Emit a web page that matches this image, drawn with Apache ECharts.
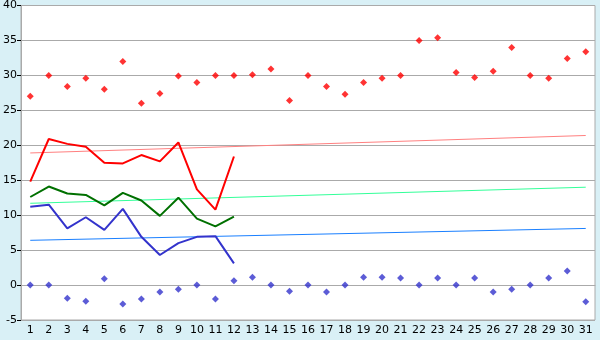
<!DOCTYPE html>
<html><head><meta charset="utf-8">
<script src="https://cdn.jsdelivr.net/npm/echarts@6/dist/echarts.min.js"></script>
<style>html,body{margin:0;padding:0;background:#d9f0f6;}#c{width:600px;height:340px;}</style>
</head><body><div id="c"></div>
<script>
const days = ['1','2','3','4','5','6','7','8','9','10','11','12','13','14','15','16','17','18','19','20','21','22','23','24','25','26','27','28','29','30','31'];
const maxPoints = [27.0,30.0,28.4,29.6,28.0,32.0,26.0,27.4,29.9,29.0,30.0,30.0,30.1,30.9,26.4,30.0,28.4,27.3,29.0,29.6,30.0,35.0,35.4,30.4,29.7,30.6,34.0,30.0,29.6,32.4,33.4];
const minPoints = [0,0,-1.9,-2.3,0.9,-2.7,-2.0,-1.0,-0.6,0,-2.0,0.6,1.1,0,-0.9,0,-1.0,0,1.1,1.1,1.0,0,1.0,0,1.0,-1.0,-0.6,0,1.0,2.0,-2.4];
const redLine = [14.8,20.9,20.2,19.8,17.5,17.4,18.6,17.7,20.4,13.7,10.8,18.4];
const greenLine = [12.6,14.1,13.1,12.9,11.4,13.2,12.1,9.9,12.5,9.5,8.4,9.8];
const blueLine = [11.2,11.5,8.1,9.7,7.9,10.9,6.9,4.3,6.0,6.9,7.0,3.1];
const redTrend = [['1',18.9],['31',21.4]];
const greenTrend = [['1',11.7],['31',14.0]];
const blueTrend = [['1',6.4],['31',8.1]];
const yTicks = {min:-5,max:40,interval:5};

const chart = echarts.init(document.getElementById('c'));
const lineS = (d,c,w) => ({type:'line',data:d,symbol:'none',lineStyle:{color:c,width:w},itemStyle:{color:c},animation:false});
chart.setOption({
  backgroundColor:'#d9f0f6',
  animation:false,
  grid:{left:21,right:5,top:5,bottom:20,show:true,backgroundColor:'#ffffff',borderColor:'#aaaaaa',borderWidth:1},
  xAxis:{type:'category',data:days,boundaryGap:true,
    axisLine:{lineStyle:{color:'#aaaaaa'}},
    axisTick:{alignWithLabel:true,interval:0,length:4,lineStyle:{color:'#000'}},
    axisLabel:{interval:0,color:'#000',fontFamily:'DejaVu Sans',fontSize:11,margin:5},
    splitLine:{show:false}},
  yAxis:{type:'value',min:yTicks.min,max:yTicks.max,interval:yTicks.interval,
    axisLine:{show:true,lineStyle:{color:'#aaaaaa'}},
    axisTick:{show:true,length:4,lineStyle:{color:'#000'}},
    axisLabel:{color:'#000',fontFamily:'DejaVu Sans',fontSize:11,margin:4},
    splitLine:{lineStyle:{color:'#aaaaaa',width:1}}},
  series:[
    lineS(redTrend,'#ff8080',1),
    lineS(greenTrend,'#33ff99',1),
    lineS(blueTrend,'#1a80ff',1),
    lineS(redLine,'#ff0000',2),
    lineS(greenLine,'#007000',2),
    lineS(blueLine,'#3333cc',2),
    {type:'scatter',data:maxPoints,symbol:'diamond',symbolSize:7,itemStyle:{color:'#ff0000'}},
    {type:'scatter',data:minPoints,symbol:'diamond',symbolSize:7,itemStyle:{color:'#3333cc'}}
  ]
});
</script></body></html>
